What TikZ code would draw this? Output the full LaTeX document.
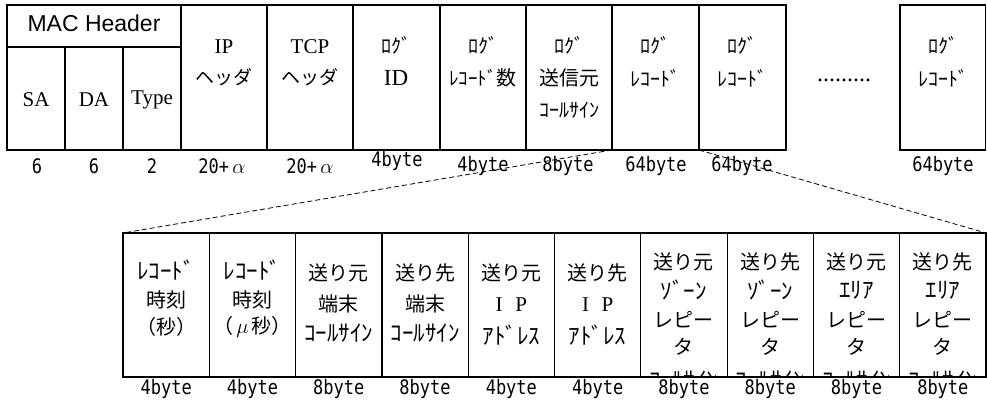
\documentclass[tikz,border=0pt]{standalone}
\usepackage{fontspec}
\setmainfont{Liberation Serif}
\newfontfamily\jpf{Noto Sans CJK JP}
\newfontfamily\macf{Liberation Sans}
\newfontfamily\monof[FakeStretch=0.85]{DejaVu Sans Mono}
\begin{document}
\begin{tikzpicture}[x=1pt,y=-1pt,
  box/.style={draw, line width=1.2pt, rectangle, inner sep=0pt, outer sep=0pt, anchor=north west},
  txt/.style={inner sep=0pt, anchor=center},
  jpbig/.style={txt, font=\jpf\fontsize{20}{22}\selectfont},
  jpmid/.style={txt, font=\jpf\fontsize{19}{21}\selectfont},
  hk/.style={txt, font=\jpf\fontsize{20}{22}\selectfont},
  hkl/.style={txt, font=\jpf\fontsize{23}{25}\selectfont},
  lat/.style={txt, font=\fontsize{21}{23}\selectfont},
  num/.style={txt, font=\monof\fontsize{20}{22}\selectfont},
  link/.style={dashed, dash pattern=on 5pt off 3pt, line width=0.8pt}]
\useasboundingbox (0,0) rectangle (987,403);

% ---------- top row boxes ----------
\node[box, minimum width=174pt, minimum height=42pt] (mac) at (7,5) {};
\node[box, minimum width=58pt, minimum height=103pt] (sa) at (7,47) {};
\node[box, minimum width=58pt, minimum height=103pt] (da) at (65,47) {};
\node[box, minimum width=58pt, minimum height=103pt] (ty) at (123,47) {};
\node[box, minimum width=86pt, minimum height=145pt] (ip) at (181,5) {};
\node[box, minimum width=86pt, minimum height=145pt] (tcp) at (267,5) {};
\node[box, minimum width=87pt, minimum height=145pt] (lid) at (353,5) {};
\node[box, minimum width=86pt, minimum height=145pt] (cnt) at (440,5) {};
\node[box, minimum width=86pt, minimum height=145pt] (src) at (526,5) {};
\node[box, minimum width=87pt, minimum height=145pt] (r1) at (612,5) {};
\node[box, minimum width=87pt, minimum height=145pt] (r2) at (699,5) {};
\node[box, minimum width=85.5pt, minimum height=145pt] (rn) at (900,5) {};

% ---------- top row texts ----------
\node[txt, font=\macf\fontsize{23}{25}\selectfont] (tmac) at (94,23) {MAC Header};
\node[lat] (tsa) at (36,100) {SA};
\node[lat] (tda) at (94,100) {DA};
\node[lat] (tty) at (152,100) {Type};
\node[lat] (tip1) at (224,47) {IP};
\node[jpmid] (tip2) at (224,77) {ヘッダ};
\node[lat] (ttcp1) at (310,47) {TCP};
\node[jpmid] (ttcp2) at (310,77) {ヘッダ};
\node[hk] (tid1) at (396,45) {ﾛｸﾞ};
\node[txt, font=\fontsize{23}{25}\selectfont] (tid2) at (396,78) {ID};
\node[hk] (tcnt1) at (483,45) {ﾛｸﾞ};
\node[txt] (tcnt2) at (483,78) {{\jpf\fontsize{19}{21}\selectfont ﾚｺｰﾄﾞ}{\jpf\fontsize{20}{22}\selectfont 数}};
\node[hk] (tsrc1) at (569,45) {ﾛｸﾞ};
\node[jpbig] (tsrc2) at (569,78) {送信元};
\node[hk] (tsrc3) at (569,110) {ｺｰﾙｻｲﾝ};
\node[hk] (tr11) at (655,45) {ﾛｸﾞ};
\node[hk] (tr12) at (655,78) {ﾚｺｰﾄﾞ};
\node[hk] (tr21) at (742,45) {ﾛｸﾞ};
\node[hk] (tr22) at (742,78) {ﾚｺｰﾄﾞ};
\node[hk] (trn1) at (943,45) {ﾛｸﾞ};
\node[hk] (trn2) at (943,78) {ﾚｺｰﾄﾞ};
\node[txt, font=\fontsize{24}{26}\selectfont] (dots) at (844,80) {.........};

% ---------- top row sizes ----------
\node[num] (s1) at (37,166) {6};
\node[num] (s2) at (94,166) {6};
\node[num] (s3) at (152,166) {2};
\node[num] (s4) at (222,166) {20+\,$\alpha$};
\node[num] (s5) at (310,166) {20+\,$\alpha$};
\node[num] (s6) at (397,161) {4byte};
\node[num] (s7) at (483,166) {4byte};
\node[num] (s8) at (568,166) {8byte};
\node[num] (s9) at (656,166) {64byte};
\node[num] (s10) at (742,166) {64byte};
\node[num] (s11) at (943,166) {64byte};

% ---------- bottom row boxes ----------
\foreach \i in {1,...,10} {
  \node[box, minimum width=86.3pt, minimum height=144pt] (b\i) at ({123+86.3*(\i-1)},233) {};
  \node[num] (bs\i) at ({123+86.3*(\i-1)+43.15},389) {\ifnum\i<3 4byte\else\ifnum\i>4 \ifnum\i<7 4byte\else 8byte\fi\else 8byte\fi\fi};
}

% ---------- bottom row texts ----------
\node[hkl] (c11) at (b1.center |- 0,270) {ﾚｺｰﾄﾞ};
\node[jpbig] (c12) at (b1.center |- 0,300) {時刻};
\node[jpbig] (c13) at (b1.center |- 0,327) {（秒）};
\node[hkl] (c21) at (b2.center |- 0,270) {ﾚｺｰﾄﾞ};
\node[jpbig] (c22) at (b2.center |- 0,300) {時刻};
\node[jpbig] (c23) at (b2.center |- 0,327) {（\,$\mu$\,秒）};
\node[jpbig] (c31) at (b3.center |- 0,273) {送り元};
\node[jpbig] (c32) at (b3.center |- 0,304) {端末};
\node[hkl] (c33) at (b3.center |- 0,333) {ｺｰﾙｻｲﾝ};
\node[jpbig] (c41) at (b4.center |- 0,273) {送り先};
\node[jpbig] (c42) at (b4.center |- 0,304) {端末};
\node[hkl] (c43) at (b4.center |- 0,333) {ｺｰﾙｻｲﾝ};
\node[jpbig] (c51) at (b5.center |- 0,273) {送り元};
\node[txt, font=\fontsize{21}{23}\selectfont] (c52) at (b5.center |- 0,305) {I\hspace{0.6em}P};
\node[hkl] (c53) at (b5.center |- 0,335) {ｱﾄﾞﾚｽ};
\node[jpbig] (c61) at (b6.center |- 0,273) {送り先};
\node[txt, font=\fontsize{21}{23}\selectfont] (c62) at (b6.center |- 0,305) {I\hspace{0.6em}P};
\node[hkl] (c63) at (b6.center |- 0,335) {ｱﾄﾞﾚｽ};
\begin{scope}
\clip (b7.north west) rectangle (b10.south east);
\node[jpbig] (c71) at (b7.center |- 0,262) {送り元};
\node[hkl] (c72) at (b7.center |- 0,290) {ｿﾞｰﾝ};
\node[jpbig] (c73) at (b7.center |- 0,320) {レピー};
\node[jpbig] (c74) at (b7.center |- 0,347) {タ};
\node[hkl] (c75) at (b7.center |- 0,380) {ｺｰﾙｻｲﾝ};
\node[jpbig] (c81) at (b8.center |- 0,262) {送り先};
\node[hkl] (c82) at (b8.center |- 0,290) {ｿﾞｰﾝ};
\node[jpbig] (c83) at (b8.center |- 0,320) {レピー};
\node[jpbig] (c84) at (b8.center |- 0,347) {タ};
\node[hkl] (c85) at (b8.center |- 0,380) {ｺｰﾙｻｲﾝ};
\node[jpbig] (c91) at (b9.center |- 0,262) {送り元};
\node[hkl] (c92) at (b9.center |- 0,290) {ｴﾘｱ};
\node[jpbig] (c93) at (b9.center |- 0,320) {レピー};
\node[jpbig] (c94) at (b9.center |- 0,347) {タ};
\node[hkl] (c95) at (b9.center |- 0,380) {ｺｰﾙｻｲﾝ};
\node[jpbig] (c101) at (b10.center |- 0,262) {送り先};
\node[hkl] (c102) at (b10.center |- 0,290) {ｴﾘｱ};
\node[jpbig] (c103) at (b10.center |- 0,320) {レピー};
\node[jpbig] (c104) at (b10.center |- 0,347) {タ};
\node[hkl] (c105) at (b10.center |- 0,380) {ｺｰﾙｻｲﾝ};
\end{scope}
\foreach \i in {7,...,10} { \draw[line width=1.2pt] (b\i.south west) -- (b\i.south east); }

% ---------- expansion lines ----------
\draw[link] (src.south east) -- (b1.north west);
\draw[link] (r2.south west) -- (b10.north east);
\end{tikzpicture}
\end{document}
